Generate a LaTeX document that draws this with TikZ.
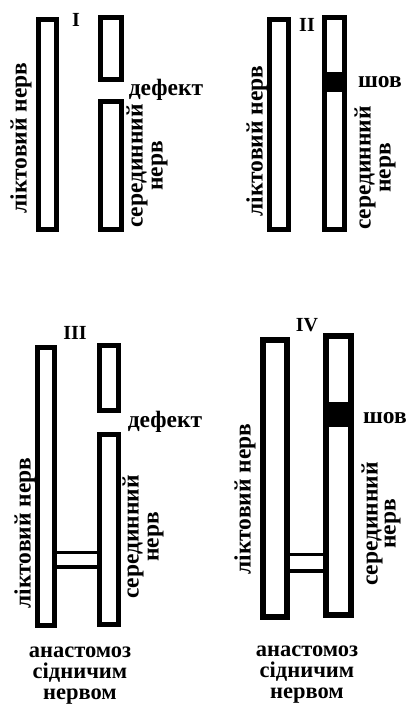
\documentclass[tikz,border=0pt]{standalone}
\usepackage{fontspec}
\setmainfont{Liberation Serif}
\begin{document}
\begin{tikzpicture}[x=1pt,y=-1pt,
  nerve/.style={draw=black,line width=5pt,fill=white,inner sep=0pt,outer sep=0pt},
  suture/.style={fill=black,inner sep=0pt,outer sep=0pt},
  bar/.style={line width=3.5pt},
  lbl/.style={font=\fontsize{23.5}{20}\selectfont\bfseries,inner sep=0pt},
  vlbl/.style={lbl,rotate=90,align=center},
  num/.style={font=\fontsize{20}{20}\selectfont\bfseries,inner sep=0pt},
  bottomtext/.style={font=\fontsize{22.5}{21}\selectfont\bfseries,inner sep=0pt,align=center}]
\fill[white] (0,0) rectangle (409,704);
\useasboundingbox (0,0) rectangle (409,704);
% ---------- Panel I ----------
\node[nerve,minimum width=18pt,minimum height=210pt] (u1) at (47.5,124.5) {};
\node[nerve,minimum width=21pt,minimum height=62pt] (m1a) at (111,48.5) {};
\node[nerve,minimum width=21pt,minimum height=128pt] (m1b) at (111,165.5) {};
\node[num] (t1) at (76,20) {I};
\node[lbl] (d1) at (166,90) {дефект};
\node[vlbl] (ul1) at (21,138) {ліктовий нерв};
\node[vlbl] (ml1) at (147,166) {серединний\\нерв};
% ---------- Panel II ----------
\node[nerve,minimum width=19pt,minimum height=210pt] (u2) at (279,124.5) {};
\node[nerve,minimum width=20pt,minimum height=212pt] (m2) at (334.5,123.5) {};
\node[suture,minimum width=25pt,minimum height=20pt] (s2) at (334.5,82) {};
\node[num] (t2) at (307,25) {II};
\node[lbl] (sh2) at (380,82) {шов};
\node[vlbl] (ul2) at (257,141) {ліктовий нерв};
\node[vlbl] (ml2) at (375,168) {серединний\\нерв};
% ---------- Panel III ----------
\node[nerve,minimum width=17pt,minimum height=278pt] (u3) at (46,486.5) {};
\node[nerve,minimum width=19pt,minimum height=65pt] (m3a) at (109,378) {};
\node[nerve,minimum width=19pt,minimum height=190pt] (m3b) at (109,529.5) {};
\draw[bar] (u3.east |- 0,552.5) -- (m3b.west |- 0,552.5);
\draw[bar] (u3.east |- 0,567) -- (m3b.west |- 0,567);
\node[num] (t3) at (75,333) {III};
\node[lbl] (d3) at (165,422) {дефект};
\node[vlbl] (ul3) at (25,533) {ліктовий нерв};
\node[vlbl] (ml3) at (143,537) {серединний\\нерв};
\node[bottomtext] (a3) at (80,676) {анастомоз\\сідничим\\нервом};
% ---------- Panel IV ----------
\node[nerve,line width=6pt,minimum width=24pt,minimum height=277pt] (u4) at (275,478.5) {};
\node[nerve,line width=6pt,minimum width=25pt,minimum height=279pt] (m4) at (338.5,475.5) {};
\node[suture,minimum width=31pt,minimum height=25pt] (s4) at (338.5,414.5) {};
\draw[bar] (u4.east |- 0,554.5) -- (m4.west |- 0,554.5);
\draw[bar] (u4.east |- 0,571) -- (m4.west |- 0,571);
\node[num] (t4) at (307,325) {IV};
\node[lbl] (sh4) at (385,418) {шов};
\node[vlbl] (ul4) at (245,499) {ліктовий нерв};
\node[vlbl,font=\fontsize{23.5}{18}\selectfont\bfseries] (ml4) at (381,524) {серединний\\нерв};
\node[bottomtext] (a4) at (307,675) {анастомоз\\сідничим\\нервом};
\end{tikzpicture}
\end{document}
